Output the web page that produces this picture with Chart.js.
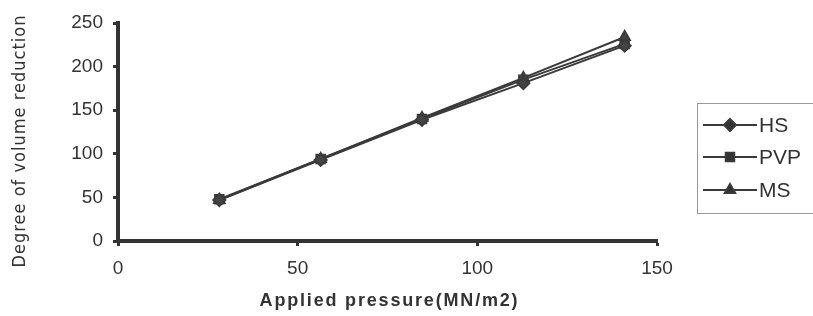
<!DOCTYPE html>
<html>
<head>
<meta charset="utf-8">
<script src="https://cdn.jsdelivr.net/npm/chart.js@4/dist/chart.umd.min.js"></script>
<style>
  html, body { margin: 0; padding: 0; background: #fff; }
  #wrap { width: 813px; height: 316px; position: relative; }
</style>
</head>
<body>
<div id="wrap"><canvas id="chart"></canvas></div>
<script>
// applied pressure (MN/m2)
const pressures = [28.2, 56.4, 84.6, 112.8, 141];
const seriesNames = ['HS', 'PVP', 'MS'];
const hsValues = [47, 93, 139, 181, 224];
const pvpValues = [48, 94, 140, 185, 226];
const msValues = [47, 94, 141, 187, 234];
const xTicks = [0, 50, 100, 150];
const yTicks = [0, 50, 100, 150, 200, 250];
const xTitle = 'Applied pressure(MN/m2)';
const yTitle = 'Degree of volume reduction';

const ink = '#333';
const pointStyles = ['rectRot', 'rect', 'triangle'];

function toPoints(vals) {
    return vals.map((v, i) => ({ x: pressures[i], y: v }));
}

// titles with letter spacing + the boxed legend on the right
const decorPlugin = {
    id: 'decor',
    afterDraw(chart) {
        const ctx = chart.ctx;
        const area = chart.chartArea;

        function spaced(text, font, target) {
            ctx.font = font;
            ctx.letterSpacing = '0px';
            const w0 = ctx.measureText(text).width;
            const sp = (target - w0) / (text.length - 1);
            ctx.letterSpacing = sp + 'px';
        }

        ctx.save();
        ctx.fillStyle = ink;
        ctx.textAlign = 'center';
        ctx.textBaseline = 'middle';

        // x title
        spaced(xTitle, 'bold 18px "Liberation Sans", Arial, sans-serif', 258);
        ctx.fillText(xTitle, (area.left + area.right) / 2 + 2, 301);

        // y title
        ctx.save();
        ctx.translate(20, 141);
        ctx.rotate(-Math.PI / 2);
        spaced(yTitle, '18px "DejaVu Sans Condensed", "Liberation Sans", sans-serif', 252);
        ctx.fillText(yTitle, 0, 0);
        ctx.restore();
        ctx.letterSpacing = '0px';

        // legend
        ctx.strokeStyle = '#999';
        ctx.lineWidth = 1;
        ctx.strokeRect(697.5, 103.5, 130, 110);
        const rows = [125, 157, 190];
        chart.data.datasets.forEach((ds, i) => {
            const y = rows[i];
            ctx.strokeStyle = ds.borderColor;
            ctx.lineWidth = 2;
            ctx.beginPath();
            ctx.moveTo(703, y);
            ctx.lineTo(757, y);
            ctx.stroke();
            Chart.helpers.drawPoint(ctx, {
                pointStyle: ds.pointStyle,
                radius: 6,
                borderWidth: 1
            }, 730, y);
            ctx.fillStyle = ink;
            ctx.font = '21px "Liberation Sans", Arial, sans-serif';
            ctx.textAlign = 'left';
            ctx.fillText(ds.label, 759, y + 1);
        });
        ctx.restore();
    }
};

const datasets = [hsValues, pvpValues, msValues].map((vals, i) => ({
    label: seriesNames[i],
    data: toPoints(vals),
    borderColor: '#3a3a3a',
    backgroundColor: '#444',
    borderWidth: 2,
    pointStyle: pointStyles[i],
    pointRadius: 6,
    pointBorderColor: '#3a3a3a',
    pointBackgroundColor: '#444',
    tension: 0
}));

new Chart(document.getElementById('chart'), {
    type: 'line',
    data: { datasets: datasets },
    options: {
        responsive: true,
        maintainAspectRatio: false,
        animation: false,
        layout: { padding: { top: 23, right: 156, left: 0, bottom: 0 } },
        plugins: {
            legend: { display: false },
            tooltip: { enabled: false }
        },
        scales: {
            x: {
                type: 'linear',
                min: 0,
                max: 150,
                afterBuildTicks: (scale) => { scale.ticks = xTicks.map(v => ({ value: v })); },
                afterFit: (scale) => { scale.height = 75; },
                border: { display: true, color: ink, width: 4 },
                grid: { drawOnChartArea: false, drawTicks: true, tickLength: 5, tickColor: ink, tickWidth: 3 },
                ticks: { color: ink, padding: 11, font: { family: '"Liberation Sans", Arial, sans-serif', size: 19 } }
            },
            y: {
                min: 0,
                max: 250,
                afterBuildTicks: (scale) => { scale.ticks = yTicks.map(v => ({ value: v })); },
                afterFit: (scale) => { scale.width = 118; },
                border: { display: true, color: ink, width: 4 },
                grid: { drawOnChartArea: false, drawTicks: true, tickLength: 5, tickColor: ink, tickWidth: 3 },
                ticks: { color: ink, padding: 10, font: { family: '"Liberation Sans", Arial, sans-serif', size: 19 } }
            }
        }
    },
    plugins: [decorPlugin]
});
</script>
</body>
</html>
